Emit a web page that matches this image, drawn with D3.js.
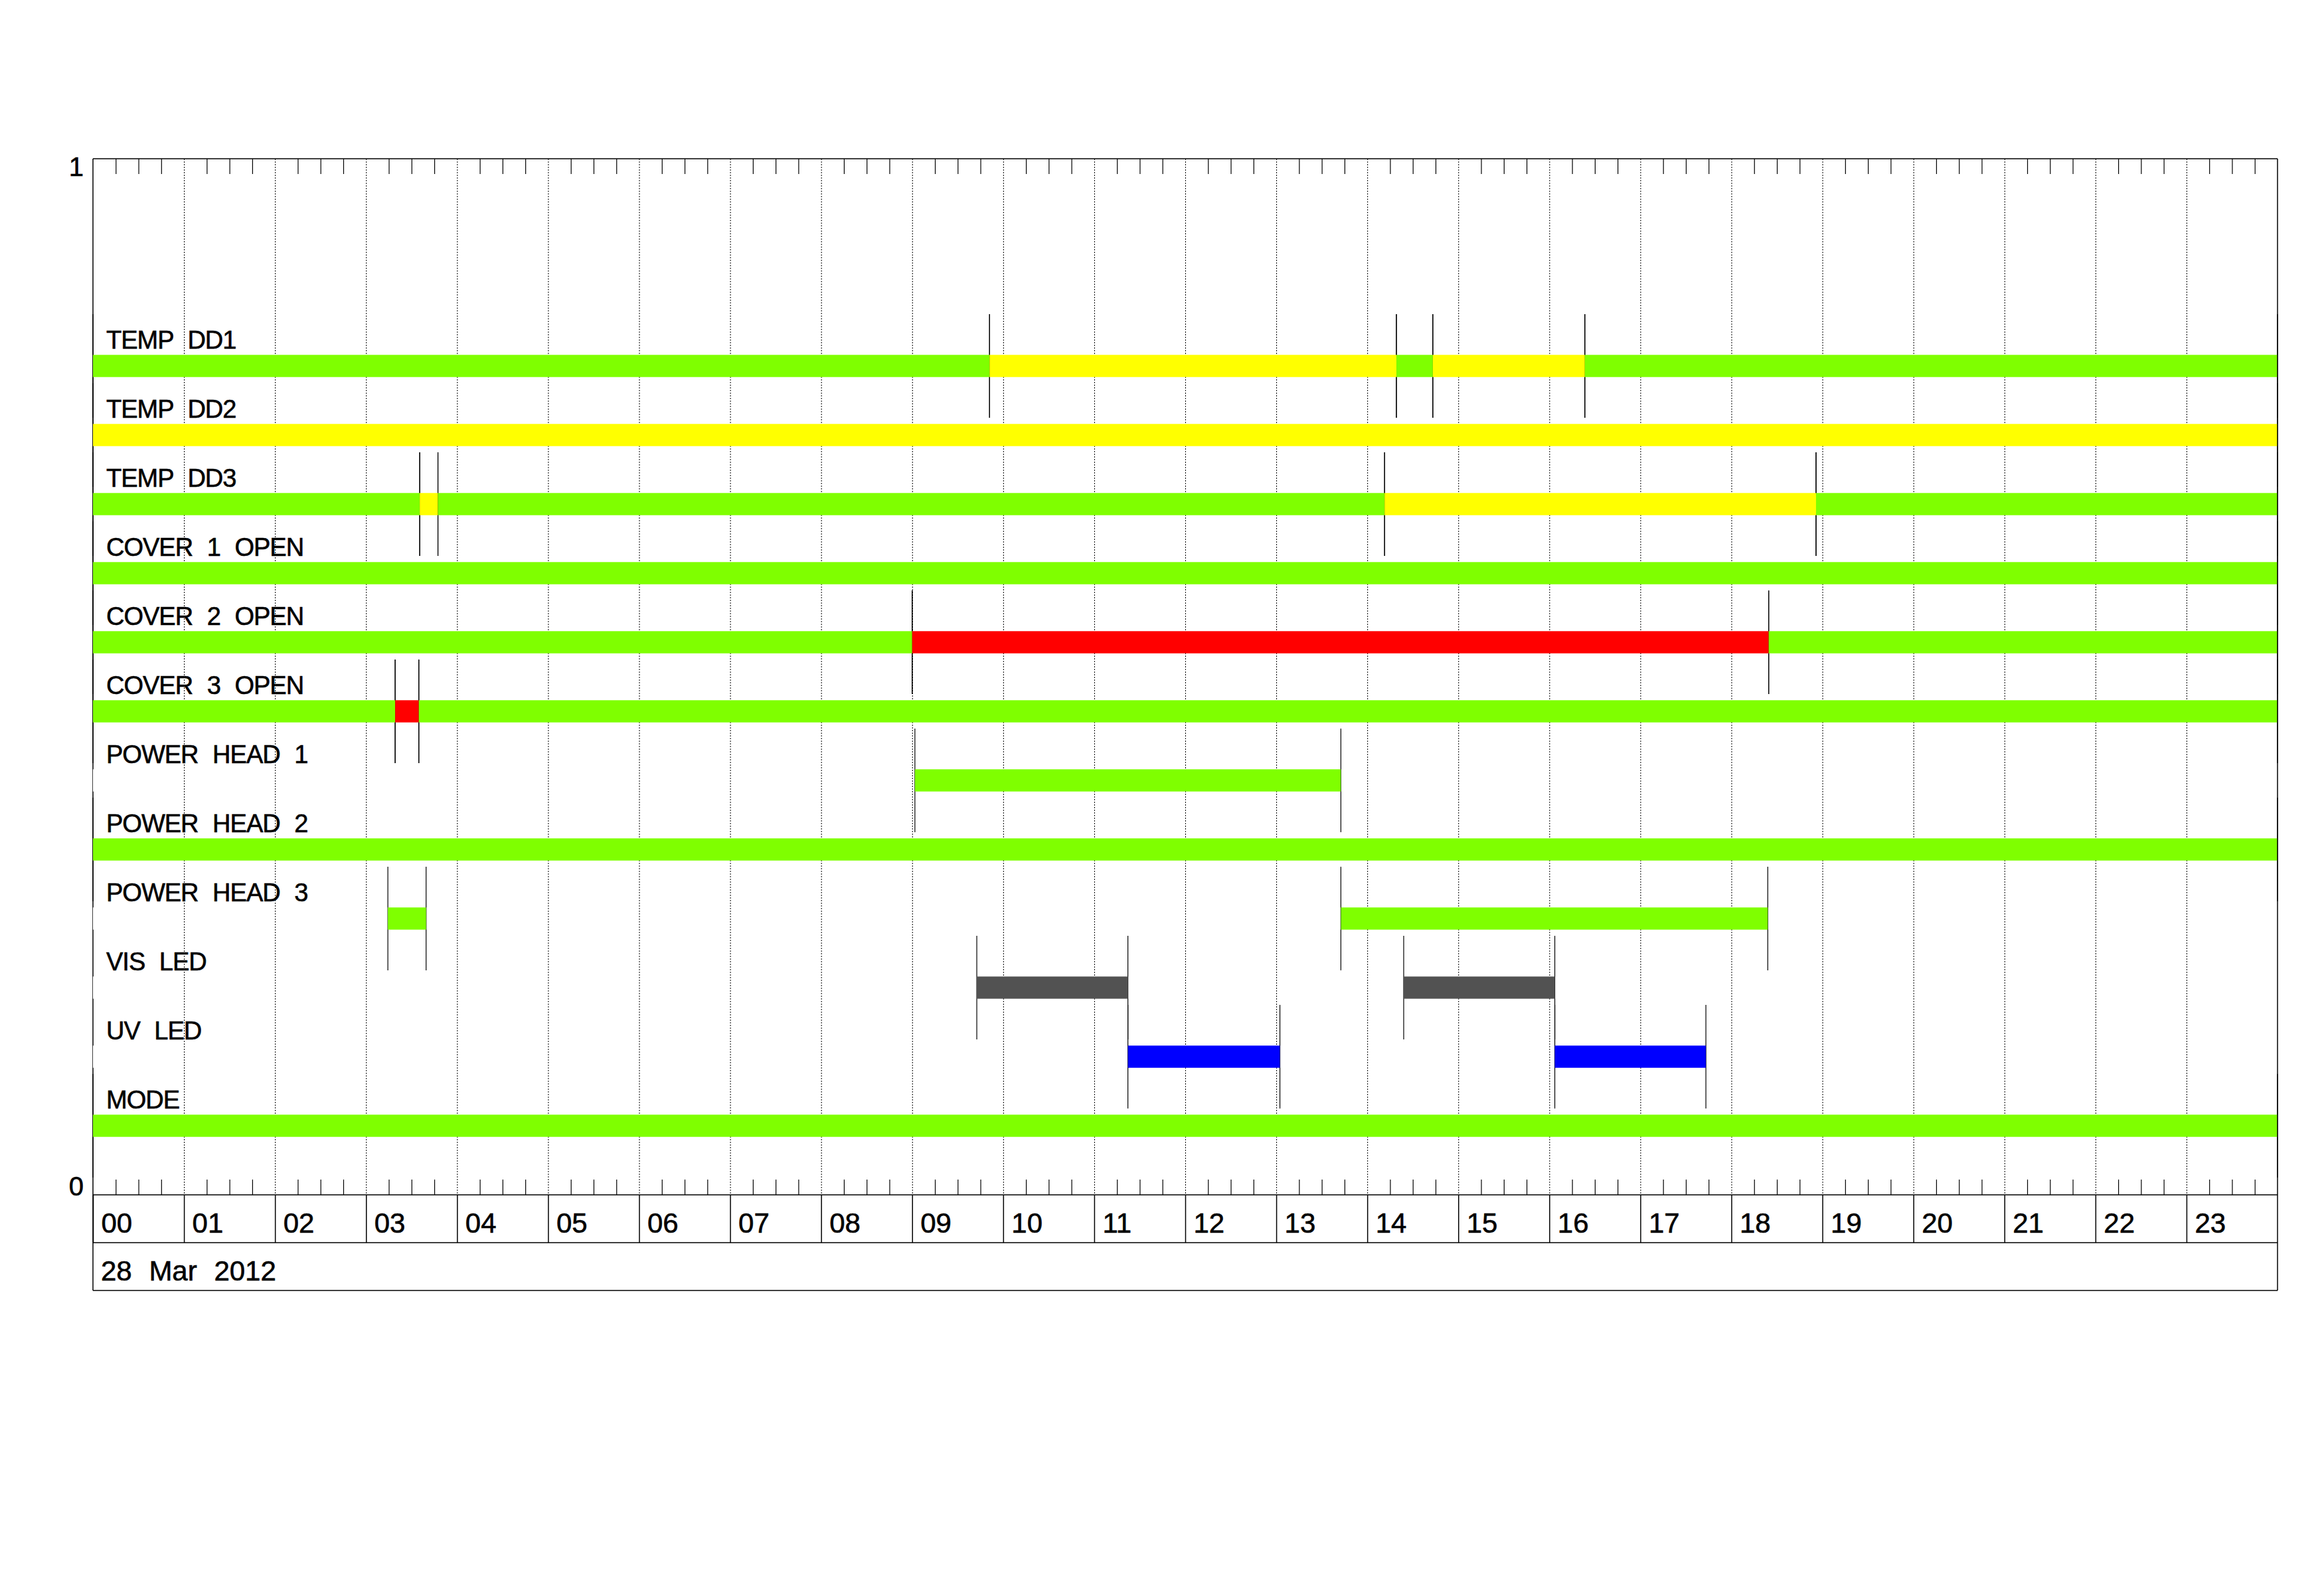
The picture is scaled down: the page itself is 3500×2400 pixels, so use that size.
<!DOCTYPE html>
<html>
<head>
<meta charset="utf-8">
<script src="https://cdn.jsdelivr.net/npm/d3@7"></script>
<style>
  body { margin: 0; background: #fff; }
  text { font-family: "Liberation Sans", Arial, sans-serif; fill: #000; stroke: #000; stroke-width: 0.6px; }
</style>
</head>
<body>
<div id="chart"></div>
<script>
(function () {

    // status rows, top to bottom
    var rowNames = [
        "TEMP DD1", "TEMP DD2", "TEMP DD3",
        "COVER 1 OPEN", "COVER 2 OPEN", "COVER 3 OPEN",
        "POWER HEAD 1", "POWER HEAD 2", "POWER HEAD 3",
        "VIS LED", "UV LED", "MODE"
    ];

    // [row, start hour, end hour, state]
    var segments = [
        ["TEMP DD1", 0, 9.85, "ok"],
        ["TEMP DD1", 9.85, 14.32, "warn"],
        ["TEMP DD1", 14.32, 14.72, "ok"],
        ["TEMP DD1", 14.72, 16.39, "warn"],
        ["TEMP DD1", 16.39, 24, "ok"],
        ["TEMP DD2", 0, 24, "warn"],
        ["TEMP DD3", 0, 3.59, "ok"],
        ["TEMP DD3", 3.59, 3.79, "warn"],
        ["TEMP DD3", 3.79, 14.19, "ok"],
        ["TEMP DD3", 14.19, 18.93, "warn"],
        ["TEMP DD3", 18.93, 24, "ok"],
        ["COVER 1 OPEN", 0, 24, "ok"],
        ["COVER 2 OPEN", 0, 9.0, "ok"],
        ["COVER 2 OPEN", 9.0, 18.41, "alarm"],
        ["COVER 2 OPEN", 18.41, 24, "ok"],
        ["COVER 3 OPEN", 0, 3.32, "ok"],
        ["COVER 3 OPEN", 3.32, 3.58, "alarm"],
        ["COVER 3 OPEN", 3.58, 24, "ok"],
        ["POWER HEAD 1", 0, 9.03, "off"],
        ["POWER HEAD 1", 9.03, 13.71, "ok"],
        ["POWER HEAD 1", 13.71, 24, "off"],
        ["POWER HEAD 2", 0, 24, "ok"],
        ["POWER HEAD 3", 0, 3.24, "off"],
        ["POWER HEAD 3", 3.24, 3.66, "ok"],
        ["POWER HEAD 3", 3.66, 13.71, "off"],
        ["POWER HEAD 3", 13.71, 18.40, "ok"],
        ["POWER HEAD 3", 18.40, 24, "off"],
        ["VIS LED", 0, 9.71, "off"],
        ["VIS LED", 9.71, 11.37, "vis"],
        ["VIS LED", 11.37, 14.40, "off"],
        ["VIS LED", 14.40, 16.06, "vis"],
        ["VIS LED", 16.06, 24, "off"],
        ["UV LED", 0, 11.37, "off"],
        ["UV LED", 11.37, 13.04, "uv"],
        ["UV LED", 13.04, 16.06, "off"],
        ["UV LED", 16.06, 17.72, "uv"],
        ["UV LED", 17.72, 24, "off"],
        ["MODE", 0, 24, "ok"]
    ];

    var hourLabels = ["00", "01", "02", "03", "04", "05", "06", "07", "08", "09", "10", "11",
                      "12", "13", "14", "15", "16", "17", "18", "19", "20", "21", "22", "23"];
    var dateLabel = "28 Mar 2012";
    var yTickValues = [0, 1];

    var stateColor = {
        ok: "#7fff00",
        warn: "#ffff00",
        alarm: "#ff0000",
        vis: "#525252",
        uv: "#0000ff",
        off: "#ffffff"
    };

    var margin = { top: 239, left: 140 },
        width = 3290,
        height = 1560,
        boxH = 72;

    var svg = d3.select("#chart")
        .append("svg")
        .attr("width", 3500)
        .attr("height", 2400)
        .style("background", "#fff");

    var g = svg.append("g")
        .attr("transform", "translate(" + margin.left + "," + margin.top + ")");

    var x = d3.scaleLinear().domain([0, 24]).range([0, width]);
    var y = d3.scaleLinear().domain([0, 1]).range([height, 0]);
    // rows sit at 12/15 ... 1/15 of the y range
    var rowY = d3.scalePoint().domain(rowNames).range([y(12 / 15), y(1 / 15)]);

    var barHalf = 16.7,
        markHalf = 78;

    // left axis line (off-state bars paint over it)
    g.append("line")
        .attr("x1", 0).attr("x2", 0)
        .attr("y1", 0).attr("y2", height + 2 * boxH)
        .attr("stroke", "#000").attr("stroke-width", 1.5);

    var offSegs = segments.filter(function (d) { return d[3] === "off"; });
    var onSegs = segments.filter(function (d) { return d[3] !== "off"; });

    g.append("g").selectAll("rect")
        .data(offSegs)
        .join("rect")
        .attr("x", function (d) { return x(d[1]); })
        .attr("width", function (d) { return x(d[2]) - x(d[1]); })
        .attr("y", function (d) { return rowY(d[0]) - barHalf; })
        .attr("height", 2 * barHalf)
        .attr("fill", stateColor.off);

    // dotted hour grid
    g.append("g")
        .call(d3.axisBottom(x).tickValues(d3.range(1, 24)).tickSize(height).tickFormat(""))
        .call(function (a) { a.select(".domain").remove(); })
        .selectAll("line")
        .attr("stroke", "#000")
        .attr("stroke-width", 1)
        .attr("stroke-dasharray", "2,2");

    // transition markers
    var marks = [];
    onSegs.forEach(function (d) {
        marks.push([d[0], d[1]]);
        marks.push([d[0], d[2]]);
    });
    g.append("g").selectAll("line")
        .data(marks)
        .join("line")
        .attr("x1", function (d) { return x(d[1]); })
        .attr("x2", function (d) { return x(d[1]); })
        .attr("y1", function (d) { return rowY(d[0]) - markHalf; })
        .attr("y2", function (d) { return rowY(d[0]) + markHalf; })
        .attr("stroke", "#000")
        .attr("stroke-width", 1.2);

    // status bars
    g.append("g").selectAll("rect")
        .data(onSegs)
        .join("rect")
        .attr("x", function (d) { return x(d[1]); })
        .attr("width", function (d) { return x(d[2]) - x(d[1]); })
        .attr("y", function (d) { return rowY(d[0]) - barHalf; })
        .attr("height", 2 * barHalf)
        .attr("fill", function (d) { return stateColor[d[3]]; });

    // row labels
    g.append("g").selectAll("text")
        .data(rowNames)
        .join("text")
        .attr("x", 20)
        .attr("y", function (d) { return rowY(d) - 26; })
        .attr("font-size", 38)
        .attr("letter-spacing", -1)
        .attr("word-spacing", 12)
        .text(function (d) { return d; });

    // quarter-hour ticks top and bottom
    var quarters = d3.range(0, 96).map(function (i) { return i / 4; })
        .filter(function (v) { return v % 1 !== 0; });

    g.append("g")
        .call(d3.axisBottom(x).tickValues(quarters).tickSize(23).tickFormat(""))
        .call(function (a) { a.select(".domain").remove(); })
        .selectAll("line").attr("stroke-width", 1.2);

    g.append("g")
        .attr("transform", "translate(0," + height + ")")
        .call(d3.axisTop(x).tickValues(quarters).tickSize(23).tickFormat(""))
        .call(function (a) { a.select(".domain").remove(); })
        .selectAll("line").attr("stroke-width", 1.2);

    // hour label boxes
    var hourAxis = g.append("g")
        .attr("transform", "translate(0," + height + ")")
        .call(d3.axisBottom(x)
            .tickValues(d3.range(0, 24))
            .tickSize(boxH)
            .tickFormat(function (i) { return hourLabels[i]; }))
        .call(function (a) { a.select(".domain").remove(); });
    hourAxis.selectAll("line").attr("stroke-width", 1.5);
    hourAxis.selectAll("text")
        .attr("x", 12)
        .attr("y", 57)
        .attr("dy", null)
        .attr("text-anchor", "start")
        .attr("font-size", 42)
        .attr("font-family", "Liberation Sans, Arial, sans-serif");

    g.append("text")
        .attr("x", 12)
        .attr("y", height + boxH + 57)
        .attr("font-size", 42)
        .attr("word-spacing", 14)
        .text(dateLabel);

    // frame
    var frame = g.append("g").attr("stroke", "#000").attr("stroke-width", 1.5);
    [0, height, height + boxH, height + 2 * boxH].forEach(function (yy) {
        frame.append("line").attr("x1", 0).attr("x2", width).attr("y1", yy).attr("y2", yy);
    });
    frame.append("line")
        .attr("x1", width).attr("x2", width)
        .attr("y1", 0).attr("y2", height + 2 * boxH);

    // y tick labels 0 and 1
    g.append("g").selectAll("text")
        .data(yTickValues)
        .join("text")
        .attr("x", -14)
        .attr("y", function (d) { return y(d) + (d === 1 ? 26 : 1); })
        .attr("text-anchor", "end")
        .attr("font-size", 40)
        .text(function (d) { return d; });
})();
</script>
</body>
</html>
